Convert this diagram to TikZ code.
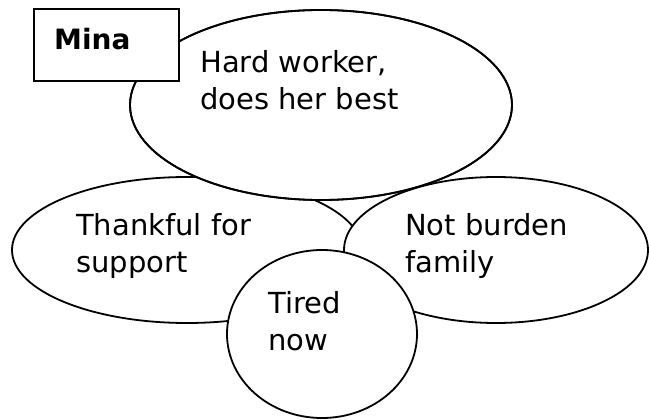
\documentclass[tikz,border=0pt]{standalone}
\usepackage{fontspec}
\setmainfont{DejaVu Sans}
\usetikzlibrary{shapes.geometric}
\tikzset{
  bubble/.style={ellipse, draw=black, line width=1.8pt, fill=white, inner sep=0pt},
  topbubble/.style={bubble, minimum width=382pt, minimum height=190pt},
  label/.style={anchor=base west, align=left, inner sep=0pt, font=\fontsize{29}{37}\selectfont},
  namebox/.style={draw=black, line width=1.8pt, fill=white, inner sep=0pt}
}
\begin{document}
\begin{tikzpicture}[x=1pt,y=-1pt]
\useasboundingbox (0,0) rectangle (649,420);
\node[bubble, minimum width=350pt, minimum height=146pt] (left) at (187,250) {};
\node[topbubble] (top) at (321,105) {};
\node[bubble, minimum width=304pt, minimum height=146pt] (right) at (496,250) {};
\node[topbubble, fill=none] (topline) at (top.center) {};
\node[bubble, minimum width=190pt, minimum height=168pt] (tired) at (322,334) {};
\node[namebox, minimum width=145pt, minimum height=72pt] (mina) at (106.5,45) {};
\node[label, font=\fontsize{28}{36}\selectfont\bfseries] (minat) at (54,50) {Mina};
\node[label] (topt) at (200,110) {Hard worker,\\does her best};
\node[label] (leftt) at (76,272) {Thankful for\\support};
\node[label] (rightt) at (405,272) {Not burden\\family};
\node[label] (tiredt) at (268,350) {Tired\\now};
\end{tikzpicture}
\end{document}
